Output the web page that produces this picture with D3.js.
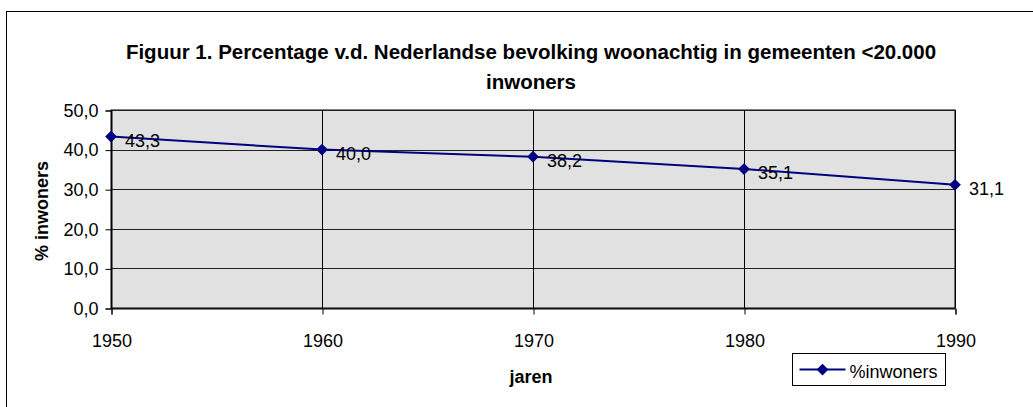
<!DOCTYPE html>
<html>
<head>
<meta charset="utf-8">
<script src="https://cdn.jsdelivr.net/npm/d3@7"></script>
<style>
  body { margin: 0; background: #fff; }
  text { font-family: "Liberation Sans", Arial, sans-serif; fill: #000; }
  .title { font-weight: bold; font-size: 20.5px; }
  .axis-title { font-weight: bold; font-size: 18px; }
  .tick-label { font-size: 18px; }
</style>
</head>
<body>
<div id="chart"></div>
<script>
// data
const years = [1950, 1960, 1970, 1980, 1990];
const pctInwoners = [43.3, 40.0, 38.2, 35.1, 31.1];
const yTicks = [0, 10, 20, 30, 40, 50];
const titleLines = ['Figuur 1. Percentage v.d. Nederlandse bevolking woonachtig in gemeenten <20.000', 'inwoners'];
const seriesName = '%inwoners';

const width = 1033, height = 407;
const plot = {left: 111, top: 110, right: 955, bottom: 308};
const fmt = v => d3.format('.1f')(v).replace('.', ',');

const svg = d3.select('#chart').append('svg')
    .attr('width', width)
    .attr('height', height);

// outer frame (only left and top visible in the picture)
svg.append('rect')
    .attr('x', 6.5).attr('y', 11.5)
    .attr('width', 1100).attr('height', 500)
    .attr('fill', 'none')
    .attr('stroke', '#000')
    .attr('stroke-width', 1);

const x = d3.scaleLinear()
    .domain([d3.min(years), d3.max(years)])
    .range([plot.left, plot.right]);

const y = d3.scaleLinear()
    .domain([0, 50])
    .range([plot.bottom, plot.top]);

// plot background
svg.append('rect')
    .attr('x', plot.left).attr('y', plot.top)
    .attr('width', plot.right - plot.left)
    .attr('height', plot.bottom - plot.top)
    .attr('fill', '#e1e1e1')
    .attr('stroke', '#000')
    .attr('stroke-width', 1);

// gridlines
svg.append('g')
    .selectAll('line')
    .data(yTicks)
    .join('line')
    .attr('x1', plot.left).attr('x2', plot.right)
    .attr('y1', d => Math.round(y(d)) + 0.5)
    .attr('y2', d => Math.round(y(d)) + 0.5)
    .attr('stroke', '#222');

svg.append('g')
    .selectAll('line')
    .data(years)
    .join('line')
    .attr('y1', plot.top).attr('y2', plot.bottom)
    .attr('x1', d => Math.round(x(d)) + 0.5)
    .attr('x2', d => Math.round(x(d)) + 0.5)
    .attr('stroke', '#000');

// axes
const yAxis = d3.axisLeft(y)
    .tickValues(yTicks)
    .tickFormat(fmt)
    .tickSize(6)
    .tickPadding(7);

const yg = svg.append('g')
    .attr('transform', `translate(${plot.left + 0.5},0.5)`)
    .call(yAxis);
yg.select('.domain').attr('stroke', '#000');
yg.selectAll('text').style('font-size', '18px')
    .style('font-family', '"Liberation Sans", Arial, sans-serif');

const xAxis = d3.axisBottom(x)
    .tickValues(years)
    .tickFormat(d3.format('d'))
    .tickSize(6)
    .tickPadding(20);

const xg = svg.append('g')
    .attr('transform', `translate(0.5,${plot.bottom + 0.5})`)
    .call(xAxis);
xg.select('.domain').attr('stroke', '#000');
xg.selectAll('text').style('font-size', '18px')
    .style('font-family', '"Liberation Sans", Arial, sans-serif');

// title
svg.append('text')
    .attr('class', 'title')
    .attr('text-anchor', 'middle')
    .selectAll('tspan')
    .data(titleLines)
    .join('tspan')
    .attr('x', 531)
    .attr('y', (d, i) => 59 + i * 30)
    .text(d => d);

// axis titles
svg.append('text')
    .attr('class', 'axis-title')
    .attr('text-anchor', 'middle')
    .attr('x', 531).attr('y', 383)
    .text('jaren');

svg.append('text')
    .attr('class', 'axis-title')
    .attr('text-anchor', 'middle')
    .attr('transform', 'translate(48,211) rotate(-90)')
    .text('% inwoners');

// series line
const data = years.map((yr, i) => ({year: yr, value: pctInwoners[i]}));
const line = d3.line()
    .x(d => x(d.year))
    .y(d => y(d.value));

svg.append('path')
    .datum(data)
    .attr('d', line)
    .attr('fill', 'none')
    .attr('stroke', '#000080')
    .attr('stroke-width', 2);

const diamond = d3.symbol().type(d3.symbolDiamond2).size(88);

svg.append('g')
    .selectAll('path')
    .data(data)
    .join('path')
    .attr('d', diamond)
    .attr('transform', d => `translate(${x(d.year)},${y(d.value)})`)
    .attr('fill', '#000080');

// data labels
svg.append('g')
    .selectAll('text')
    .data(data)
    .join('text')
    .attr('class', 'tick-label')
    .attr('x', d => x(d.year) + 14)
    .attr('y', d => y(d.value) + 10)
    .text(d => fmt(d.value));

// legend
const legend = svg.append('g')
    .attr('transform', 'translate(792.5,353.5)');

legend.append('rect')
    .attr('width', 153).attr('height', 32)
    .attr('fill', '#fff')
    .attr('stroke', '#000');

legend.append('line')
    .attr('x1', 7).attr('x2', 53)
    .attr('y1', 16).attr('y2', 16)
    .attr('stroke', '#000080')
    .attr('stroke-width', 2);

legend.append('path')
    .attr('d', diamond)
    .attr('transform', 'translate(30,16)')
    .attr('fill', '#000080');

legend.append('text')
    .attr('class', 'tick-label')
    .attr('x', 57).attr('y', 24)
    .text(seriesName);
</script>
</body>
</html>
